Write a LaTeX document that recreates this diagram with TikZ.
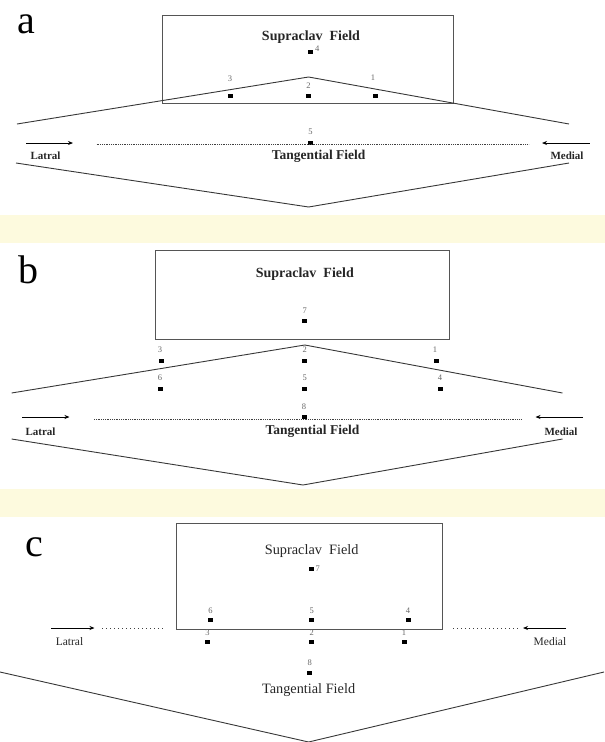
\documentclass[tikz,border=0pt]{standalone}
\usepackage{fontspec}
\setmainfont{Liberation Serif}
\usetikzlibrary{arrows.meta}
\definecolor{bandyel}{RGB}{253,250,222}
\definecolor{ln}{RGB}{55,55,55}
\definecolor{boxln}{RGB}{85,85,85}
\tikzset{
  mk/.style={fill=black, draw=none, minimum width=5pt, minimum height=4pt, inner sep=0pt},
  num/.style={font=\fontsize{8.5}{8.5}\selectfont, text=black!60, inner sep=0pt},
  panel/.style={font=\fontsize{40}{40}\selectfont, inner sep=0pt},
  fieldb/.style={font=\bfseries\fontsize{14}{14}\selectfont, text=black!85, inner sep=0pt},
  tanb/.style={font=\bfseries\fontsize{13.5}{13.5}\selectfont, text=black!85, inner sep=0pt},
  fieldr/.style={font=\fontsize{14.3}{14.3}\selectfont, text=black!85, inner sep=0pt},
  sideb/.style={font=\bfseries\fontsize{11}{11}\selectfont, text=black!85, inner sep=0pt},
  sider/.style={font=\fontsize{11.5}{11.5}\selectfont, text=black!85, inner sep=0pt},
  vline/.style={draw=ln, line width=0.9pt},
  fieldbox/.style={draw=boxln, line width=0.8pt},
  dots/.style={draw=black!75, line width=0.8pt, dash pattern=on 0.9pt off 0.9pt},
  arr/.style={draw=black, line width=0.9pt, -{Stealth[length=5pt,width=4pt]}},
}
\begin{document}
\begin{tikzpicture}[x=1pt,y=-1pt]
\useasboundingbox (0,0) rectangle (605,742);
% yellow bands
\fill[bandyel] (0,215) rectangle (605,243);
\fill[bandyel] (0,489) rectangle (605,517);

% ================= panel a =================
\node[panel] (la) at (26,24) {a};
\draw[fieldbox] (162,15) rectangle (453,103);
\node[fieldb] (sa) at (311,37) {Supraclav\ \ Field};
\node[mk] (a4) at (310.6,52) {};
\node[num, anchor=west] (a4l) at (315,49) {4};
\coordinate (apk) at (308.6,77);
\coordinate (al) at (17,124);
\coordinate (ar) at (569,124);
\draw[vline] (al) -- (apk) -- (ar);
\node[mk] (a3) at (230,96) {};
\node[mk] (a2) at (308.6,96) {};
\node[mk] (a1) at (375,96) {};
\node[num] at (230,79) {3};
\node[num] at (308.6,86) {2};
\node[num] at (373,78) {1};
\node[mk] (a5) at (310.6,143) {};
\node[num] at (310.6,132) {5};
\coordinate (ad1) at (96.5,144);
\coordinate (ad2) at (528.5,144);
\draw[dots] (ad1) -- (ad2);
\coordinate (aal1) at (26,143);
\coordinate (aal2) at (73,143);
\coordinate (aar1) at (589.5,143);
\coordinate (aar2) at (542,143);
\draw[arr] (aal1) -- (aal2);
\draw[arr] (aar1) -- (aar2);
\node[sideb] (alat) at (45.5,156) {Latral};
\node[sideb] (amed) at (567,156) {Medial};
\node[tanb] (atan) at (318.6,156) {Tangential Field};
\coordinate (avl) at (16,163);
\coordinate (avt) at (308.6,207);
\coordinate (avr) at (569,163);
\draw[vline] (avl) -- (avt) -- (avr);

% ================= panel b =================
\node[panel] (lb) at (29,270) {b};
\draw[fieldbox] (155,250) rectangle (449,339);
\node[fieldb] (sb) at (304.8,274) {Supraclav\ \ Field};
\node[mk] (b7) at (304.8,321) {};
\node[num] at (304.8,311) {7};
\coordinate (bpk) at (304.8,345);
\coordinate (bl) at (11.6,393);
\coordinate (br) at (562.5,393);
\draw[vline] (bl) -- (bpk) -- (br);
\node[mk] (b3) at (161,361) {};
\node[mk] (b2) at (304.8,361) {};
\node[mk] (b1) at (436,361) {};
\node[num] at (160,350) {3};
\node[num] at (304.8,350) {2};
\node[num] at (435,350) {1};
\node[mk] (b6) at (160,389) {};
\node[mk] (b5) at (304.8,389) {};
\node[mk] (b4) at (440,389) {};
\node[num] at (160,378) {6};
\node[num] at (304.8,378) {5};
\node[num] at (440,378) {4};
\node[mk] (b8) at (304,417) {};
\node[num] at (304,407) {8};
\coordinate (bd1) at (94,419);
\coordinate (bd2) at (521,419);
\draw[dots] (bd1) -- (bd2);
\coordinate (bal1) at (22,417);
\coordinate (bal2) at (69.5,417);
\coordinate (bar1) at (583,417);
\coordinate (bar2) at (535.5,417);
\draw[arr] (bal1) -- (bal2);
\draw[arr] (bar1) -- (bar2);
\node[sideb] (blat) at (40.5,432) {Latral};
\node[sideb] (bmed) at (561,432) {Medial};
\node[tanb] (btan) at (312.5,431) {Tangential Field};
\coordinate (bvl) at (11.6,439);
\coordinate (bvt) at (303,485);
\coordinate (bvr) at (562.5,439);
\draw[vline] (bvl) -- (bvt) -- (bvr);

% ================= panel c =================
\node[panel] (lc) at (34,547) {c};
\draw[fieldbox] (176,523) rectangle (442.5,629);
\node[fieldr] (sc) at (311.7,551) {Supraclav\ \ Field};
\node[mk] (c7) at (311,569) {};
\node[num, anchor=west] at (315.5,569) {7};
\node[mk] (c6) at (210.6,620) {};
\node[mk] (c5) at (311.7,620) {};
\node[mk] (c4) at (408,620) {};
\node[num] at (210.6,611) {6};
\node[num] at (311.7,611) {5};
\node[num] at (408,611) {4};
\node[mk] (c3) at (207.6,642) {};
\node[mk] (c2) at (311.7,642) {};
\node[mk] (c1) at (404,642) {};
\node[num] at (207.6,633) {3};
\node[num] at (311.7,633) {2};
\node[num] at (404,633) {1};
\node[mk] (c8) at (309.8,673) {};
\node[num] at (309.8,663) {8};
\node[fieldr] (ctan) at (308.6,690) {Tangential Field};
\coordinate (cal1) at (51,628);
\coordinate (cal2) at (94.5,628);
\coordinate (cd1) at (102,628);
\coordinate (cd2) at (164,628);
\coordinate (cd3) at (453,628);
\coordinate (cd4) at (519,628);
\coordinate (car1) at (566,628);
\coordinate (car2) at (523,628);
\draw[arr] (cal1) -- (cal2);
\draw[dots, dash pattern=on 1.2pt off 2.8pt] (cd1) -- (cd2);
\draw[dots, dash pattern=on 1.2pt off 2.8pt] (cd3) -- (cd4);
\draw[arr] (car1) -- (car2);
\node[sider] (clat) at (69.5,642) {Latral};
\node[sider] (cmed) at (550,642) {Medial};
\coordinate (cvl) at (0,672);
\coordinate (cvt) at (308.6,742);
\coordinate (cvr) at (604,672);
\draw[vline] (cvl) -- (cvt) -- (cvr);
\end{tikzpicture}
\end{document}
